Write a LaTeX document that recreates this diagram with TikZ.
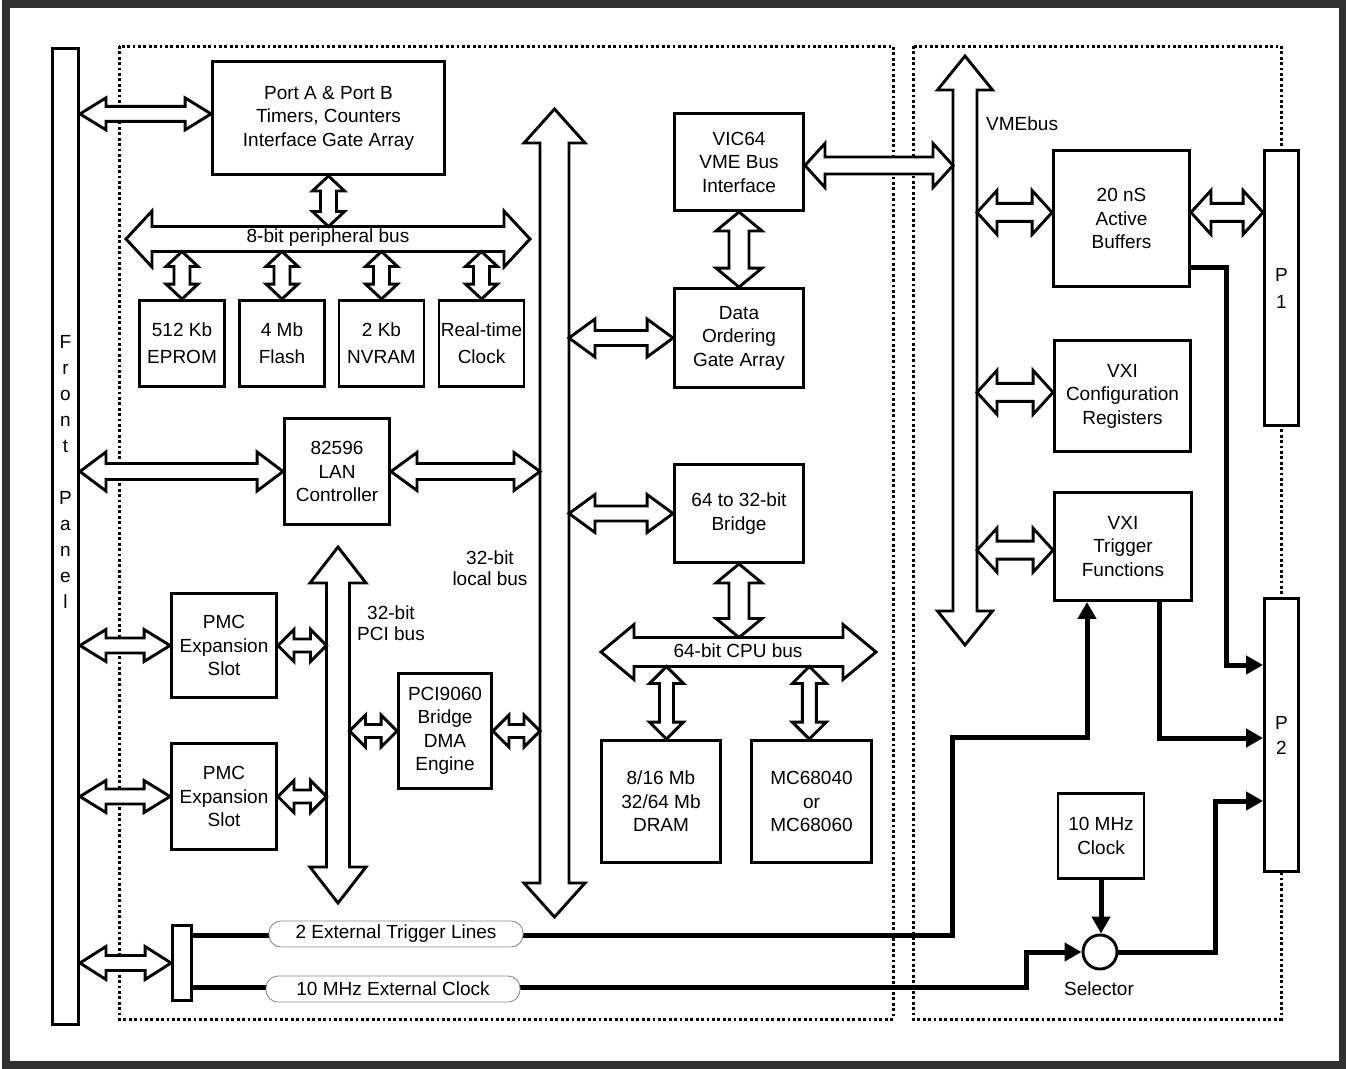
\documentclass[tikz,border=0pt]{standalone}
\usepackage{fontspec}
\setmainfont{Liberation Sans}
\usetikzlibrary{calc,arrows.meta}
\definecolor{cFrame}{HTML}{303030}
\definecolor{cPill}{gray}{0.55}
\tikzset{>=Triangle}
\tikzset{
	box/.style={draw, line width=2.9pt, fill=white, align=center, inner sep=1pt},
	hollow/.style={draw, fill=white, line width=2.9pt, line join=miter},
	sig/.style={line width=5pt, -{Triangle[length=17pt,width=18pt]}},
	pill/.style={draw=cPill, line width=0.9pt, fill=white, rounded corners=12pt, minimum width=254pt, minimum height=26pt, inner sep=0pt},
	region/.style={line width=3pt, dash pattern=on 2.8pt off 2.6pt},
	memo/.style={box, minimum width=85pt, minimum height=86pt, font=\fontsize{19}{27}\selectfont},
}
% hollow double arrow: left, right, shaft half width, head half width, head length
\newcommand{\hbus}[5]{%
	\path #1 coordinate (ha) #2 coordinate (hb);
	\draw[hollow] (ha) -- ++(#5,#4) -- ++(0,#3-#4) -- ($(hb)+(-#5,#3)$) -- ++(0,#4-#3) -- (hb) -- ++(-#5,-#4) -- ++(0,#4-#3) -- ($(ha)+(#5,-#3)$) -- ++(0,#3-#4) -- cycle;}
% hollow double arrow: top, bottom, shaft half width, head half width, head length
\newcommand{\vbus}[5]{%
	\path #1 coordinate (ha) #2 coordinate (hb);
	\draw[hollow] (ha) -- ++(#4,#5) -- ++(#3-#4,0) -- ($(hb)+(#3,-#5)$) -- ++(#4-#3,0) -- (hb) -- ++(-#4,-#5) -- ++(#4-#3,0) -- ($(ha)+(-#3,#5)$) -- ++(#3-#4,0) -- cycle;}

\begin{document}
\begin{tikzpicture}[x=1pt, y=-1pt, font=\fontsize{19}{23.5}\selectfont]
		\useasboundingbox (0,0) rectangle (1346,1068);
		\draw [cFrame, line width=8pt] (5.5,4) rectangle (1343,1064.5);
		
		%dotted board areas
		\draw [region] (119,46) rectangle (893,1019);
		\draw [region] (913,46) rectangle (1281,1019);
		
		%front panel
		\node [box, minimum width=26pt, minimum height=976pt] (front) at (65.5,536.5) {};
		\node [align=center, font=\fontsize{19}{26}\selectfont] (fplabel) at (65.5,472) {F\\r\\o\\n\\t\\[26pt]P\\a\\n\\e\\l};
		
		%local side
		\node [box, minimum width=232pt, minimum height=113pt] (port) at (328.5,118) {Port A \& Port B\\Timers, Counters\\Interface Gate Array};
		\node [memo] (eprom) at (182,343.5) {512 Kb\\EPROM};
		\node [memo] (flash) at (282,343.5) {4 Mb\\Flash};
		\node [memo] (nvram) at (381.5,343.5) {2 Kb\\NVRAM};
		\node [memo] (rtc) at (481.5,343.5) {Real-time\\Clock};
		\node [box, minimum width=105pt, minimum height=106pt] (lan) at (337,471.5) {82596\\LAN\\Controller};
		\node [box, minimum width=105pt, minimum height=104pt] (pmca) at (224,645.5) {PMC\\Expansion\\Slot};
		\node [box, minimum width=105pt, minimum height=106pt] (pmcb) at (224,796.5) {PMC\\Expansion\\Slot};
		\node [box, minimum width=93pt, minimum height=115pt] (pci9060) at (445,731) {PCI9060\\Bridge\\DMA\\Engine};
		\node [box, minimum width=129pt, minimum height=97pt] (vic) at (739,162) {VIC64\\VME Bus\\Interface};
		\node [box, minimum width=129pt, minimum height=99pt] (dataord) at (739,338) {Data\\Ordering\\Gate Array};
		\node [box, minimum width=129pt, minimum height=98pt] (bridge) at (739,513.5) {64 to 32-bit\\Bridge};
		\node [box, minimum width=119pt, minimum height=122pt] (dram) at (661,801.5) {8/16 Mb\\32/64 Mb\\DRAM};
		\node [box, minimum width=120pt, minimum height=122pt] (mc) at (811.5,801.5) {MC68040\\or\\MC68060};
		\node [box, minimum width=19pt, minimum height=75pt] (conn) at (182,963) {};
		
		%VME side
		\node [box, minimum width=136pt, minimum height=136pt] (buffers) at (1121.5,218.5) {20 nS\\Active\\Buffers};
		\node [box, minimum width=136pt, minimum height=111pt] (vxicfg) at (1122.5,396) {VXI\\Configuration\\Registers};
		\node [box, minimum width=137pt, minimum height=108pt] (vxitrig) at (1123,546.5) {VXI\\Trigger\\Functions};
		\node [box, minimum width=86pt, minimum height=85pt] (clock) at (1101,836) {10 MHz\\Clock};
		\node [box, circle, minimum size=34pt, inner sep=0pt] (selector) at (1100,952) {};
		\node (seltxt) at (1099,989) {Selector};
		\node [box, minimum width=34pt, minimum height=275pt, font=\fontsize{19}{27}\selectfont] (p1) at (1281.5,288) {P\\1};
		\node [box, minimum width=34pt, minimum height=273pt, font=\fontsize{19}{25}\selectfont] (p2) at (1281.5,735) {P\\2};
		
		%bus edges
		\coordinate (pbusT) at (0,226.5);
		\coordinate (pbusB) at (0,251.5);
		\coordinate (lbusL) at (540,0);
		\coordinate (lbusR) at (569,0);
		\coordinate (pcibusL) at (326.5,0);
		\coordinate (pcibusR) at (349.5,0);
		\coordinate (cpubusT) at (0,637.5);
		\coordinate (cpubusB) at (0,666.5);
		\coordinate (vmebusL) at (953,0);
		\coordinate (vmebusR) at (977,0);
		
		%buses
		\hbus{(126,239)}{(530,239)}{12.5}{28}{26}
		\node [inner sep=0pt] (pbustxt) at (328,238) {8-bit peripheral bus};
		\vbus{(554.5,109)}{(554.5,917)}{14.5}{30.5}{34}
		\node [align=center, font=\fontsize{19}{21}\selectfont] (lbustxt) at (490,568) {32-bit\\local bus};
		\vbus{(338,547)}{(338,903)}{11.5}{28}{36}
		\node [align=center, font=\fontsize{19}{21}\selectfont] (pcitxt) at (391,623) {32-bit\\PCI bus};
		\hbus{(601,652)}{(876,652)}{14.5}{27.5}{33}
		\node [inner sep=0pt] (cpubustxt) at (738,651) {64-bit CPU bus};
		\vbus{(965,56)}{(965,645)}{12}{27.5}{34}
		\node [anchor=west, inner sep=0pt] (vmetxt) at (986,124) {VMEbus};
		
		%front panel links
		\hbus{(front.east |- port.178)}{(port.178)}{7.5}{16}{26}
		\hbus{(front.east |- lan.west)}{(lan.west)}{8}{19.5}{26}
		\hbus{(front.east |- pmca.west)}{(pmca.west)}{7.5}{16}{26}
		\hbus{(front.east |- pmcb.west)}{(pmcb.west)}{7.5}{16}{26}
		\hbus{(front.east |- conn.west)}{(conn.west)}{7.5}{16.5}{26}
		
		%peripheral bus links
		\vbus{(port.south)}{(port.south |- pbusT)}{8}{16}{15}
		\foreach \m in {eprom,flash,nvram,rtc}
		{
			\vbus{(\m.north |- pbusB)}{(\m.north)}{8}{16}{15}
		}
		
		%local and PCI bus links
		\hbus{(lan.east)}{(lan.east -| lbusL)}{8}{19}{26}
		\hbus{(pmca.east)}{(pmca.east -| pcibusL)}{6.5}{16}{16}
		\hbus{(pmcb.east)}{(pmcb.east -| pcibusL)}{6.5}{16}{16}
		\hbus{(pci9060.west -| pcibusR)}{(pci9060.west)}{6.5}{16}{16}
		\hbus{(pci9060.east)}{(pci9060.east -| lbusL)}{6.5}{16}{16}
		\hbus{(dataord.west -| lbusR)}{(dataord.west)}{7.5}{19}{26}
		\hbus{(bridge.west -| lbusR)}{(bridge.west)}{7.5}{19}{26}
		\vbus{(vic.south)}{(dataord.north)}{10}{23}{19}
		\vbus{(bridge.south)}{(bridge.south |- cpubusT)}{10}{23}{19}
		\vbus{(dram.85 |- cpubusB)}{(dram.85)}{7}{17}{17}
		\vbus{(mc.92 |- cpubusB)}{(mc.92)}{7}{17}{17}
		
		%VMEbus links
		\hbus{(vic.-3)}{(vic.-3 -| vmebusL)}{8.5}{22}{20}
		\hbus{(buffers.175 -| vmebusR)}{(buffers.175)}{9}{22}{20}
		\hbus{(buffers.5)}{(buffers.5 -| p1.west)}{9}{22}{20}
		\hbus{(vxicfg.177 -| vmebusR)}{(vxicfg.177)}{9}{22}{20}
		\hbus{(vxitrig.183 -| vmebusR)}{(vxitrig.183)}{9}{22}{20}
		
		%trigger and clock lines
		\coordinate (trigbend) at (952,935);
		\coordinate (clkbend) at (1026,987);
		\coordinate (selbend) at (1215,952);
		\draw [sig] (buffers.-35) -- ++(36,0) |- ([yshift=70pt]p2.west);
		\draw [sig] (vxitrig.-57) |- ([yshift=-3pt]p2.west);
		\draw [sig] (conn.east |- trigbend) -- (trigbend) -- ++(0,-198) -| (vxitrig.-123);
		\draw [sig] (conn.east |- clkbend) -- (clkbend) |- (selector.west);
		\draw [sig] (clock.south) -- (clock.south |- selector.north);
		\draw [sig] (selector.east) -- (selbend) |- ([yshift=-66pt]p2.west);
		\node [pill] (trigtxt) at (396,934) {2 External Trigger Lines};
		\node [pill] (clktxt) at (393,989) {10 MHz External Clock};
		
\end{tikzpicture}
\end{document}
